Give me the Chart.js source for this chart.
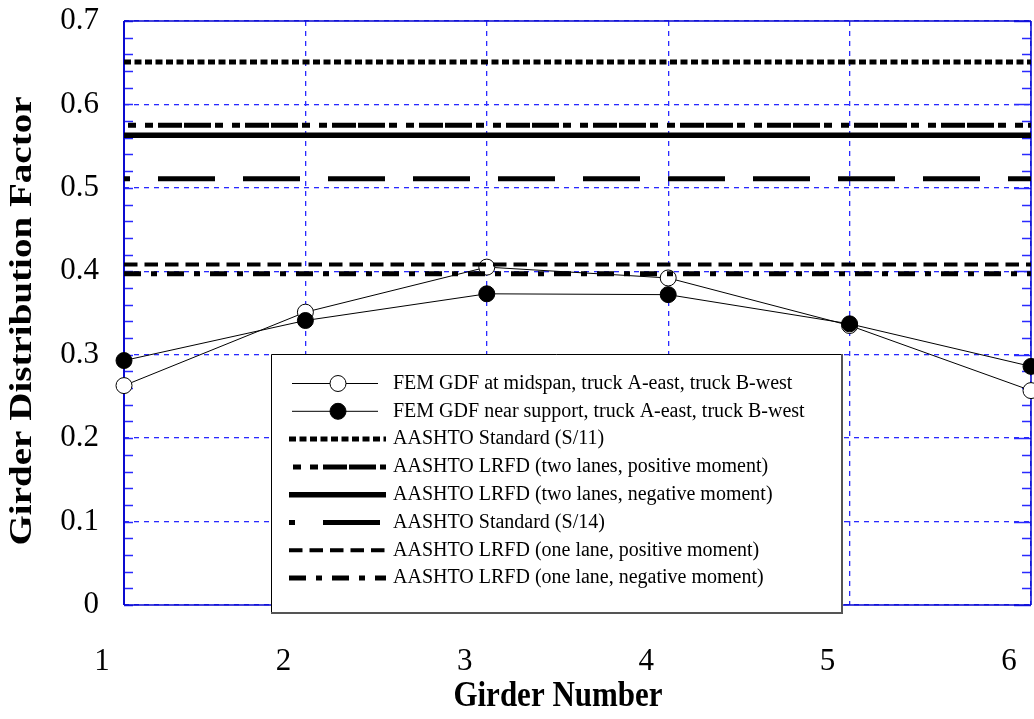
<!DOCTYPE html>
<html>
<head>
<meta charset="utf-8">
<title>Girder Distribution Factor</title>
<script src="https://cdn.jsdelivr.net/npm/chart.js@4.4.1/dist/chart.umd.min.js"></script>
<style>
  html, body { margin: 0; padding: 0; background: #fff; overflow: hidden; }
  #wrap { width: 1040px; height: 719px; }
</style>
</head>
<body>
<div id="wrap"><canvas id="c" width="1040" height="719"></canvas></div>
<script>
// ---- data ----
const girders = [1, 2, 3, 4, 5, 6];
const gdfMidspan = [0.263, 0.351, 0.405, 0.392, 0.335, 0.257];
const gdfSupport = [0.293, 0.341, 0.373, 0.372, 0.337, 0.286];
const femLabels = [
  'FEM GDF at midspan, truck A-east, truck B-west',
  'FEM GDF near support, truck A-east, truck B-west'
];
const codeLabels = [
  'AASHTO Standard (S/11)',
  'AASHTO LRFD (two lanes, positive moment)',
  'AASHTO LRFD (two lanes, negative moment)',
  'AASHTO Standard (S/14)',
  'AASHTO LRFD (one lane, positive moment)',
  'AASHTO LRFD (one lane, negative moment)'
];
const codeValues = [0.651, 0.575, 0.563, 0.511, 0.408, 0.397];
const xTitle = 'Girder Number';
const yTitle = 'Girder Distribution Factor';

// ---- line styles for the code-based factors ----
const codeDash = [
  [7, 3.5],
  [8, 9, 8, 5, 24, 2, 27, 4],
  [],
  [57, 28],
  [13.5, 7],
  [17, 10, 6, 10]
];
const codeDashOffset = [0, 83, 0, 51, 0, 0];
const codeWidth = [5, 5, 5.5, 5, 4, 5];

const SERIF = '"Liberation Serif", "Times New Roman", serif';
const GRID_BLUE = '#2a2aff';
const AXIS_BLUE = '#0a0ad0';

const datasets = [
  {
    label: femLabels[0],
    data: girders.map((g, i) => ({ x: g, y: gdfMidspan[i] })),
    borderColor: '#000', borderWidth: 1,
    pointRadius: 8, pointBorderWidth: 1,
    pointBackgroundColor: '#fff', pointBorderColor: '#000',
    clip: false, order: 10
  },
  {
    label: femLabels[1],
    data: girders.map((g, i) => ({ x: g, y: gdfSupport[i] })),
    borderColor: '#000', borderWidth: 1,
    pointRadius: 8, pointBorderWidth: 1,
    pointBackgroundColor: '#000', pointBorderColor: '#000',
    clip: false, order: 9
  }
].concat(codeValues.map((v, i) => ({
  label: codeLabels[i],
  data: [{ x: girders[0], y: v }, { x: girders[girders.length - 1], y: v }],
  borderColor: '#000',
  borderWidth: codeWidth[i],
  borderDash: codeDash[i],
  borderDashOffset: codeDashOffset[i],
  borderCapStyle: 'butt',
  pointRadius: 0,
  clip: false,
  order: i + 1
})));

// frame: borders and minor ticks around the plot area
const framePlugin = {
  id: 'frame',
  beforeDatasetsDraw(chart) {
    const { ctx, chartArea: a, scales: { y } } = chart;
    ctx.save();
    ctx.strokeStyle = GRID_BLUE;
    ctx.lineWidth = 1.3;
    for (let k = 0; k <= 35; k++) {
      const py = Math.round(y.getPixelForValue(k * 0.02)) + 0.5;
      const major = k % 5 === 0;
      ctx.beginPath();
      ctx.moveTo(a.left, py); ctx.lineTo(a.left + 9, py);
      ctx.moveTo(a.right, py); ctx.lineTo(a.right - (major ? 17 : 9), py);
      ctx.stroke();
    }
    ctx.strokeStyle = AXIS_BLUE;
    ctx.lineWidth = 1.5;
    ctx.beginPath();
    ctx.moveTo(a.left, a.top); ctx.lineTo(a.right, a.top);
    ctx.moveTo(a.left, a.bottom); ctx.lineTo(a.right, a.bottom);
    ctx.moveTo(a.right, a.top); ctx.lineTo(a.right, a.bottom);
    ctx.stroke();
    ctx.lineWidth = 2;
    ctx.beginPath();
    ctx.moveTo(a.left, a.top); ctx.lineTo(a.left, a.bottom);
    ctx.stroke();
    ctx.restore();
  }
};

// legend box and axis titles
const legendBox = { left: 271, top: 354, right: 842, bottom: 613 };
const legendRow0 = 383.5, legendRowStep = 27.8;
const legendSample = { x0: 289, x1: 386, text: 393 };

const overlayPlugin = {
  id: 'overlay',
  afterDraw(chart) {
    const { ctx } = chart;
    ctx.save();
    // box
    ctx.fillStyle = '#fff';
    ctx.fillRect(legendBox.left, legendBox.top,
      legendBox.right - legendBox.left, legendBox.bottom - legendBox.top);
    ctx.strokeStyle = '#000';
    ctx.lineWidth = 1;
    ctx.beginPath();
    ctx.moveTo(legendBox.left + 0.5, legendBox.bottom);
    ctx.lineTo(legendBox.left + 0.5, legendBox.top + 0.5);
    ctx.lineTo(legendBox.right, legendBox.top + 0.5);
    ctx.stroke();
    ctx.strokeStyle = '#555';
    ctx.lineWidth = 2;
    ctx.beginPath();
    ctx.moveTo(legendBox.right, legendBox.top);
    ctx.lineTo(legendBox.right, legendBox.bottom);
    ctx.lineTo(legendBox.left, legendBox.bottom);
    ctx.stroke();

    // entries
    ctx.font = '20px ' + SERIF;
    ctx.textBaseline = 'middle';
    ctx.textAlign = 'left';
    chart.data.datasets.forEach((ds, i) => {
      const yy = legendRow0 + i * legendRowStep;
      ctx.strokeStyle = '#000';
      if (ds.pointRadius > 0) {
        ctx.lineWidth = 1;
        ctx.setLineDash([]);
        ctx.beginPath();
        ctx.moveTo(292, yy); ctx.lineTo(378, yy);
        ctx.stroke();
        ctx.beginPath();
        ctx.arc(338, yy, ds.pointRadius, 0, Math.PI * 2);
        ctx.fillStyle = ds.pointBackgroundColor;
        ctx.fill();
        ctx.stroke();
      } else {
        ctx.lineWidth = ds.borderWidth;
        ctx.lineCap = 'butt';
        ctx.setLineDash(ds.borderDash || []);
        ctx.lineDashOffset = ds.borderDashOffset || 0;
        ctx.beginPath();
        ctx.moveTo(legendSample.x0, yy); ctx.lineTo(legendSample.x1, yy);
        ctx.stroke();
        ctx.setLineDash([]);
        ctx.lineDashOffset = 0;
      }
      ctx.fillStyle = '#000';
      ctx.fillText(ds.label, legendSample.text, yy);
    });

    // axis titles (the serif face is drawn slightly tall, as in the print layout)
    ctx.font = 'bold 31px ' + SERIF;
    ctx.textAlign = 'center';
    ctx.textBaseline = 'middle';
    ctx.save();
    ctx.translate(558, 697);
    ctx.scale(1, 1.15);
    ctx.fillText(xTitle, 0, 0);
    ctx.restore();
    ctx.translate(23, 321);
    ctx.rotate(-Math.PI / 2);
    ctx.scale(1.26, 1);
    ctx.fillText(yTitle, 0, 0);
    ctx.restore();
  }
};

new Chart(document.getElementById('c'), {
  type: 'line',
  data: { datasets },
  options: {
    responsive: false,
    animation: false,
    events: [],
    layout: { padding: { top: 21, right: 4.4, left: 0, bottom: 0 } },
    plugins: { legend: { display: false }, tooltip: { enabled: false } },
    scales: {
      x: {
        type: 'linear',
        min: 1, max: 6,
        afterFit(s) { s.height = 114; s.paddingLeft = 0; s.paddingRight = 0; },
        border: { display: false, dash: [5, 5] },
        grid: { color: GRID_BLUE, lineWidth: 1.3, drawTicks: false },
        ticks: {
          stepSize: 1,
          padding: 38,
          labelOffset: -22,
          color: '#000',
          font: { family: SERIF, size: 31 },
          maxRotation: 0
        }
      },
      y: {
        type: 'linear',
        min: 0, max: 0.7,
        afterFit(s) { s.width = 124; s.paddingTop = 0; s.paddingBottom = 0; },
        border: { display: false, dash: [5, 5] },
        grid: { color: GRID_BLUE, lineWidth: 1.3, drawTicks: false },
        ticks: {
          stepSize: 0.1,
          padding: 25,
          color: '#000',
          font: { family: SERIF, size: 31 },
          callback: v => String(Number(v.toFixed(1)))
        }
      }
    }
  },
  plugins: [framePlugin, overlayPlugin]
});
</script>
</body>
</html>
